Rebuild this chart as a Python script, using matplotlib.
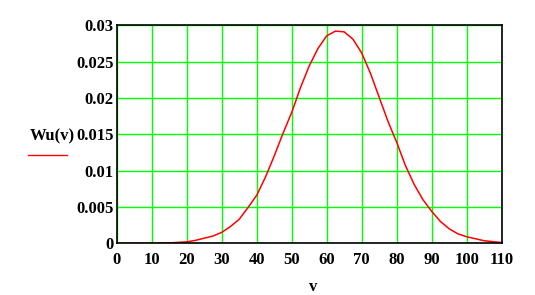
import matplotlib
matplotlib.use("Agg")
import matplotlib.pyplot as plt

# values
v = [0, 5, 10, 15, 20, 22.5, 25, 27.5, 30, 32.5, 35, 37.5, 40, 42.5, 45, 47.5,
     50, 52.5, 55, 57.5, 60, 62.5, 65, 67.5, 70, 72.5, 75, 77.5, 80, 82.5,
     85, 87.5, 90, 92.5, 95, 97.5, 100, 105, 110]
wu = [0, 0, 0.00001, 0.00005, 0.0002, 0.0004, 0.0007, 0.0010, 0.0015, 0.0023,
      0.0033, 0.0049, 0.0066, 0.0091, 0.0120, 0.0151, 0.0180, 0.0214, 0.0244,
      0.0268, 0.02855, 0.0292, 0.0291, 0.0281, 0.0262, 0.0234, 0.0201, 0.0168,
      0.0139, 0.0107, 0.0081, 0.0060, 0.0044, 0.0030, 0.0020, 0.0013, 0.0009,
      0.00035, 0.0001]

x_ticks = [0, 10, 20, 30, 40, 50, 60, 70, 80, 90, 100, 110]
y_ticks = [0, 0.005, 0.01, 0.015, 0.02, 0.025, 0.03]
y_labels = ["0", "0.005", "0.01", "0.015", "0.02", "0.025", "0.03"]

font = dict(family="Liberation Serif", fontweight="bold", fontsize=12)

fig = plt.figure(figsize=(5.35, 2.95), dpi=100)
ax = fig.add_axes([0.2181, 0.1753, 0.7196, 0.7389])

ax.plot(v, wu, color="red", lw=1.1)

ax.set_xlim(0, 110)
ax.set_ylim(0, 0.03)
ax.set_xticks(x_ticks)
ax.set_xticklabels([str(t) for t in x_ticks], **font)
ax.set_yticks(y_ticks)
ax.set_yticklabels(y_labels, **font)
ax.tick_params(length=0, pad=2)
ax.tick_params(axis="x", pad=6)
ax.grid(True, color="#00ff00", lw=1)
ax.set_axisbelow(True)
for s in ax.spines.values():
    s.set_color("black")
    s.set_linewidth(1.2)

# Mathcad style labels
fig.text(30 / 535, 1 - 136 / 295, "Wu(v)", ha="left", va="center", **font)
fig.add_artist(plt.Line2D([28 / 535, 67 / 535], [1 - 155 / 295] * 2,
                          color="red", lw=1))
fig.text(313 / 535, 1 - 287 / 295, "v", ha="center", va="center", **font)

fig.savefig("out.png", dpi=100)
